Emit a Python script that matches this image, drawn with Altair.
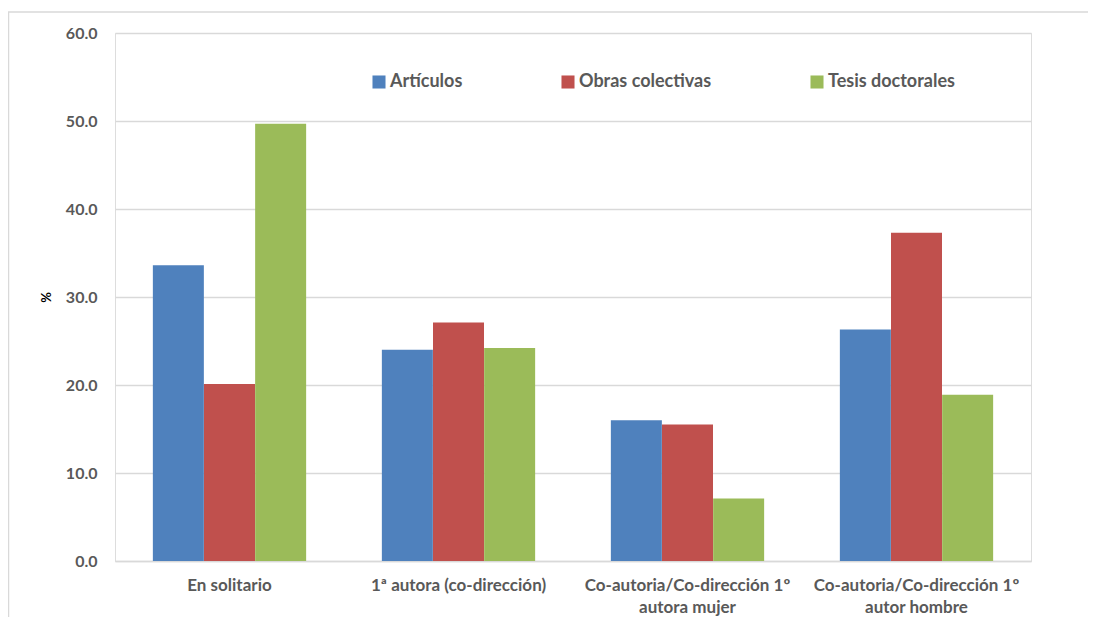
import altair as alt
import pandas as pd

categories = [
    "En solitario",
    "1ª autora (co-dirección)",
    "Co-autoria/Co-dirección 1º autora mujer",
    "Co-autoria/Co-dirección 1º autor hombre",
]
series = ["Artículos", "Obras colectivas", "Tesis doctorales"]
colors = ["#4F81BD", "#C0504D", "#9BBB59"]

articulos = [33.6, 24.0, 16.0, 26.3]
obras = [20.1, 27.1, 15.5, 37.3]
tesis = [49.7, 24.2, 7.1, 18.9]

rows = []
for i, c in enumerate(categories):
    for s, vals in zip(series, [articulos, obras, tesis]):
        rows.append({"cat": c, "serie": s, "val": vals[i]})
df = pd.DataFrame(rows)

FONT = "Lato"
GRAY = "#595959"

label_expr = (
    "indexof(datum.label, '1º ') >= 0 ? "
    "[substring(datum.label, 0, indexof(datum.label, '1º ') + 2), "
    "substring(datum.label, indexof(datum.label, '1º ') + 3)] : datum.label"
)

bars = alt.Chart(df).mark_bar(size=51).encode(
    x=alt.X(
        "cat:N",
        sort=categories,
        scale=alt.Scale(paddingInner=0.33, paddingOuter=0.165),
        axis=alt.Axis(
            title=None,
            labelAngle=0,
            labelExpr=label_expr,
            labelFont=FONT,
            labelFontSize=17,
            labelFontWeight="bold",
            labelColor=GRAY,
            labelPadding=16,
            labelLineHeight=22,
            labelLimit=300,
            ticks=False,
            domainColor="#d9d9d9",
            domainWidth=1.5,
            grid=False,
        ),
    ),
    xOffset=alt.XOffset("serie:N", sort=series),
    y=alt.Y(
        "val:Q",
        scale=alt.Scale(domain=[0, 60]),
        axis=alt.Axis(
            title="%",
            titleFont=FONT,
            titleFontSize=13,
            titleFontWeight="bold",
            titleColor="#000000",
            titlePadding=12,
            values=[0, 10, 20, 30, 40, 50, 60],
            format=".1f",
            labelFont=FONT,
            labelFontSize=16,
            labelFontWeight="bold",
            labelColor=GRAY,
            labelPadding=18,
            ticks=False,
            domain=False,
            gridColor="#d9d9d9",
            gridWidth=1.3,
        ),
    ),
    color=alt.Color(
        "serie:N",
        sort=series,
        scale=alt.Scale(domain=series, range=colors),
        legend=alt.Legend(
            title=None,
            orient="none",
            legendX=255,
            legendY=40,
            direction="horizontal",
            columns=3,
            columnPadding=96,
            symbolType="square",
            symbolSize=170,
            symbolStrokeWidth=0,
            labelFont=FONT,
            labelFontSize=18,
            labelFontWeight="bold",
            labelColor=GRAY,
            labelOffset=2,
            labelLimit=300,
        ),
    ),
)

frame = pd.DataFrame({"a": [0]})
top_line = alt.Chart(frame).mark_rule(color="#d9d9d9", strokeWidth=1.5, clip=False).encode(
    x=alt.value(-107), x2=alt.value(973), y=alt.value(-21)
)
left_line = alt.Chart(frame).mark_rule(color="#d9d9d9", strokeWidth=1.5, clip=False).encode(
    x=alt.value(-106.5), y=alt.value(-21), y2=alt.value(584)
)

chart = (
    alt.layer(top_line, left_line, bars)
    .properties(
        width=916,
        height=528,
        autosize=alt.AutoSizeParams(type="none"),
        padding={"left": 107, "top": 25, "right": 57, "bottom": 56},
    )
    .configure_view(stroke="transparent", strokeWidth=0)
    .configure(background="white")
)

chart.save("out.html", embed_options={"renderer": "svg", "actions": False})
